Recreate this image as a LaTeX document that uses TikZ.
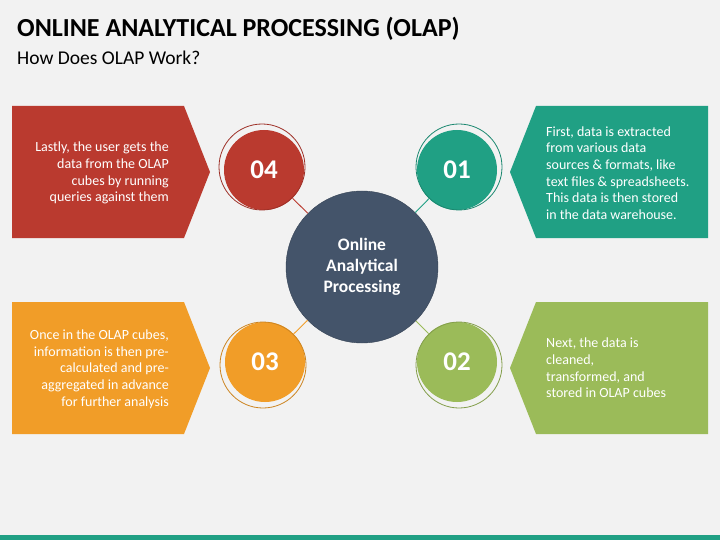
\documentclass[tikz,border=0pt]{standalone}
\usepackage{fontspec}
\setmainfont{Carlito}
\usetikzlibrary{positioning}
\definecolor{olapred}{HTML}{BA3A2F}
\definecolor{olapteal}{HTML}{20A084}
\definecolor{olapgreen}{HTML}{9BBB59}
\definecolor{olaporange}{HTML}{F19D28}
\definecolor{olaphub}{HTML}{44546A}
\definecolor{olapbg}{HTML}{F2F2F2}
\tikzset{
stepcircle/.style={
	circle, inner sep=0pt, minimum size=80pt, fill=#1, text=white,
	font=\fontsize{27}{27}\selectfont\bfseries},
ring/.style={
	circle, inner sep=0pt, minimum size=86pt, draw=#1!85!black, line width=0.8pt},
link/.style={draw=#1, line width=0.9pt},
boxtext/.style={
	text=white, inner sep=0pt, font=\fontsize{14}{16.7}\selectfont}
}

\begin{document}
\begin{tikzpicture}[x=1pt, y=-1pt]
	\fill[olapbg] (0,0) rectangle (720,540);
	\fill[olapteal] (0,535) rectangle (720,540);
	\node[anchor=base west, inner sep=0pt, font=\fontsize{26}{26}\selectfont\bfseries] (title) at (17,36.7) {ONLINE ANALYTICAL PROCESSING (OLAP)};
	\node[anchor=base west, inner sep=0pt, font=\fontsize{19.5}{19.5}\selectfont] (subtitle) at (17,65) {How Does OLAP Work?};
	% boxes
	\fill[olapred] (12,106) -- (184,106) -- (210,172) -- (184,238) -- (12,238) -- cycle;
	\fill[olaporange] (12,302) -- (184,302) -- (210,368) -- (184,434) -- (12,434) -- cycle;
	\fill[olapteal] (510,172) -- (536,106) -- (708,106) -- (708,238) -- (536,238) -- cycle;
	\fill[olapgreen] (510,368) -- (536,302) -- (708,302) -- (708,434) -- (536,434) -- cycle;
	\node[boxtext, anchor=east, align=right] (t4) at (169,173) {Lastly, the user gets the\\data from the OLAP\\cubes by running\\queries against them};
	\node[boxtext, anchor=east, align=right] (t3) at (169,369) {Once in the OLAP cubes,\\information is then pre-\\calculated and pre-\\aggregated in advance\\for further analysis};
	\node[boxtext, anchor=west, align=left] (t1) at (546,173) {First, data is extracted\\from various data\\sources \& formats, like\\text files \& spreadsheets.\\This data is then stored\\in the data warehouse.};
	\node[boxtext, anchor=west, align=left] (t2) at (546,368) {Next, the data is\\cleaned,\\transformed, and\\stored in OLAP cubes};
	% hub and steps
	\node[circle, inner sep=0pt, minimum size=152pt, fill=olaphub, draw=olaphub!80!black, text=white, align=center, font=\fontsize{17.5}{21.3}\selectfont\bfseries] (hub) at (362,267) {Online\\Analytical\\Processing};
	\node[stepcircle=olapteal] (c1) at (457,170) {01};
	\node[stepcircle=olapgreen] (c2) at (457,362) {02};
	\node[stepcircle=olaporange] (c3) at (265,362) {03};
	\node[stepcircle=olapred] (c4) at (264,170) {04};
	\node[ring=olapteal] (r1) at (459,167) {};
	\node[ring=olapgreen] (r2) at (459,365) {};
	\node[ring=olaporange] (r3) at (263,365) {};
	\node[ring=olapred] (r4) at (262,167) {};
	\draw[link=olapteal] (c1) -- (hub);
	\draw[link=olapgreen] (c2) -- (hub);
	\draw[link=olaporange] (c3) -- (hub);
	\draw[link=olapred] (c4) -- (hub);
\end{tikzpicture}
\end{document}
